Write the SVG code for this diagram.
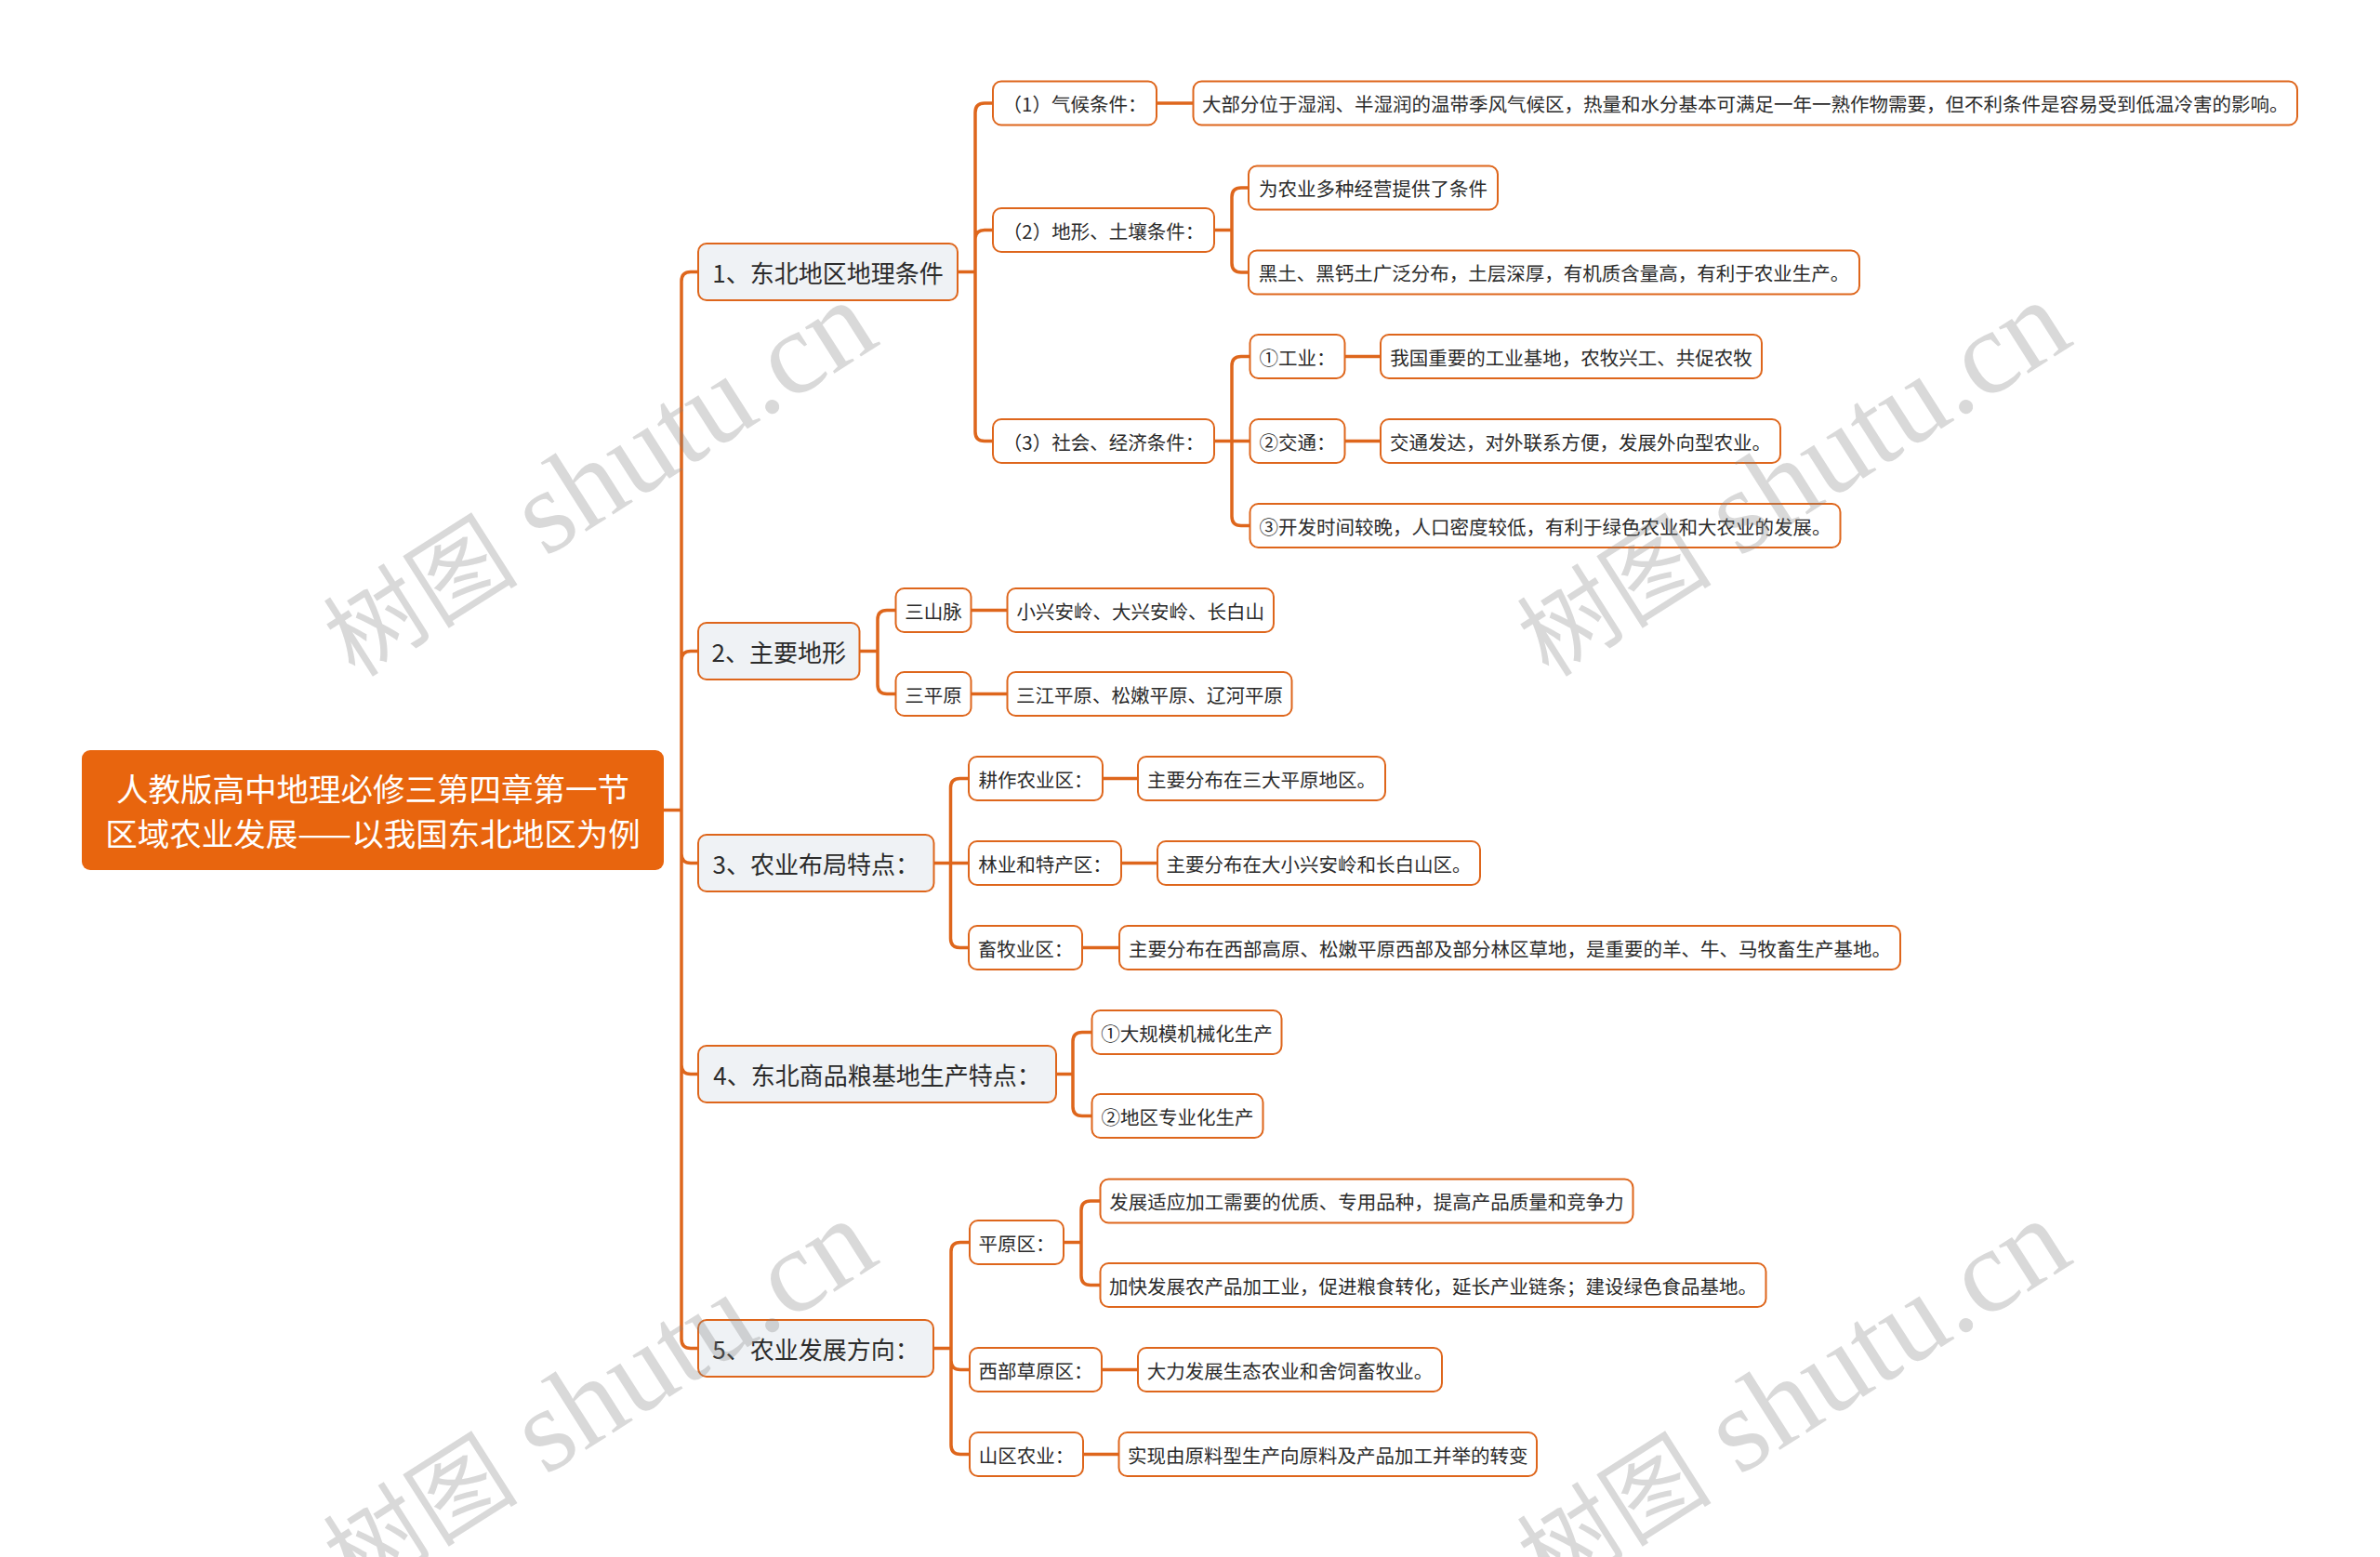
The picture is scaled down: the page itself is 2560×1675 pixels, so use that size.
<svg xmlns="http://www.w3.org/2000/svg" width="2560" height="1675" viewBox="0 0 2560 1675">
<style>
text{font-family:"Noto Sans CJK SC","Liberation Sans",sans-serif;dominant-baseline:central;text-anchor:middle;fill:#2b2b2b}
.root rect{fill:#E8650E}
.root text{fill:#fff;font-size:34.5px}
.l1 rect{fill:#EFF2F5;stroke:#DE661C;stroke-width:2}
.l1 text{font-size:26px}
.l2 rect{fill:#fff;stroke:#DE661C;stroke-width:2}
.l2 text{font-size:20.5px}
#connectors path{fill:none;stroke:#DE661C;stroke-width:3.5}
.wm text{font-family:"Liberation Serif","Noto Sans CJK SC",serif;font-size:128px;fill:#808080;fill-opacity:0.3;dominant-baseline:alphabetic}
</style>
<rect width="2560" height="1675" fill="#fff"/>
<g id="connectors">
<path d="M714 871.5 H733 M733 871.5 V302.5 Q733 292.5 743 292.5 H751 M733 871.5 V710.5 Q733 700.5 743 700.5 H751 M733 871.5 V918.5 Q733 928.5 743 928.5 H751 M733 871.5 V1145.5 Q733 1155.5 743 1155.5 H751 M733 871.5 V1440.5 Q733 1450.5 743 1450.5 H751"/>
<path d="M1030 292.5 H1049 M1049 292.5 V121 Q1049 111 1059 111 H1068 M1049 292.5 V257.5 Q1049 247.5 1059 247.5 H1068 M1049 292.5 V464.5 Q1049 474.5 1059 474.5 H1068"/>
<path d="M1244 111 H1283.5"/>
<path d="M1306 247.5 H1325 M1325 247.5 V212 Q1325 202 1335 202 H1343 M1325 247.5 V283 Q1325 293 1335 293 H1343"/>
<path d="M1306 474.5 H1325 M1325 474.5 V393.5 Q1325 383.5 1335 383.5 H1344.5 M1325 474.5 H1344.5 M1325 474.5 V555.5 Q1325 565.5 1335 565.5 H1344.5"/>
<path d="M1446.5 383.5 H1485 M1446.5 474.5 H1485"/>
<path d="M924.5 700.5 H944 M944 700.5 V666.5 Q944 656.5 954 656.5 H963.5 M944 700.5 V736.5 Q944 746.5 954 746.5 H963.5 M1044.5 656.5 H1083.5 M1044.5 746.5 H1083.5"/>
<path d="M1004.5 928.5 H1022.5 M1022.5 928.5 V847.5 Q1022.5 837.5 1032.5 837.5 H1042 M1022.5 928.5 H1042 M1022.5 928.5 V1009.5 Q1022.5 1019.5 1032.5 1019.5 H1042"/>
<path d="M1186 837.5 H1224 M1206 928.5 H1245 M1164 1019.5 H1204"/>
<path d="M1136 1155.5 H1154 M1154 1155.5 V1120.5 Q1154 1110.5 1164 1110.5 H1174.5 M1154 1155.5 V1190.5 Q1154 1200.5 1164 1200.5 H1174.5"/>
<path d="M1004 1450.5 H1023 M1023 1450.5 V1346.5 Q1023 1336.5 1033 1336.5 H1043 M1023 1450.5 V1463.5 Q1023 1473.5 1033 1473.5 H1043 M1023 1450.5 V1554.5 Q1023 1564.5 1033 1564.5 H1043"/>
<path d="M1144 1336.5 H1163 M1163 1336.5 V1302 Q1163 1292 1173 1292 H1183.5 M1163 1336.5 V1372.5 Q1163 1382.5 1173 1382.5 H1183.5"/>
<path d="M1185 1473.5 H1224 M1165 1564.5 H1203.5"/>
</g>

<g id="root" class="root"><rect x="88" y="807" width="626" height="129" rx="9"/><text x="401" y="847">人教版高中地理必修三第四章第一节</text><text x="401" y="895">区域农业发展——以我国东北地区为例</text></g>

<g id="n1" class="l1"><rect x="751" y="262" width="279" height="61" rx="9"/><text x="890.5" y="292.5">1、东北地区地理条件</text></g>
<g id="n1-1" class="l2"><rect x="1068" y="87.5" width="176" height="47" rx="9"/><text x="1156" y="111">（1）气候条件：</text></g>
<g id="n1-1-1" class="l2"><rect x="1283.5" y="87.5" width="1187.5" height="47" rx="9"/><text x="1877.25" y="111">大部分位于湿润、半湿润的温带季风气候区，热量和水分基本可满足一年一熟作物需要，但不利条件是容易受到低温冷害的影响。</text></g>
<g id="n1-2" class="l2"><rect x="1068" y="224" width="238" height="47" rx="9"/><text x="1187" y="247.5">（2）地形、土壤条件：</text></g>
<g id="n1-2-1" class="l2"><rect x="1343" y="178.5" width="268" height="47" rx="9"/><text x="1477" y="202">为农业多种经营提供了条件</text></g>
<g id="n1-2-2" class="l2"><rect x="1343" y="269.5" width="657" height="47" rx="9"/><text x="1671.5" y="293">黑土、黑钙土广泛分布，土层深厚，有机质含量高，有利于农业生产。</text></g>
<g id="n1-3" class="l2"><rect x="1068" y="451" width="238" height="47" rx="9"/><text x="1187" y="474.5">（3）社会、经济条件：</text></g>
<g id="n1-3-1" class="l2"><rect x="1344.5" y="360" width="102" height="47" rx="9"/><text x="1395.5" y="383.5">①工业：</text></g>
<g id="n1-3-1-1" class="l2"><rect x="1485" y="360" width="410" height="47" rx="9"/><text x="1690" y="383.5">我国重要的工业基地，农牧兴工、共促农牧</text></g>
<g id="n1-3-2" class="l2"><rect x="1344.5" y="451" width="102" height="47" rx="9"/><text x="1395.5" y="474.5">②交通：</text></g>
<g id="n1-3-2-1" class="l2"><rect x="1485" y="451" width="430" height="47" rx="9"/><text x="1700" y="474.5">交通发达，对外联系方便，发展外向型农业。</text></g>
<g id="n1-3-3" class="l2"><rect x="1344.5" y="542" width="635" height="47" rx="9"/><text x="1662" y="565.5">③开发时间较晚，人口密度较低，有利于绿色农业和大农业的发展。</text></g>

<g id="n2" class="l1"><rect x="751" y="670" width="173.5" height="61" rx="9"/><text x="837.75" y="700.5">2、主要地形</text></g>
<g id="n2-1" class="l2"><rect x="963.5" y="633" width="81" height="47" rx="9"/><text x="1004" y="656.5">三山脉</text></g>
<g id="n2-1-1" class="l2"><rect x="1083.5" y="633" width="286.5" height="47" rx="9"/><text x="1226.75" y="656.5">小兴安岭、大兴安岭、长白山</text></g>
<g id="n2-2" class="l2"><rect x="963.5" y="723" width="81" height="47" rx="9"/><text x="1004" y="746.5">三平原</text></g>
<g id="n2-2-1" class="l2"><rect x="1083.5" y="723" width="306" height="47" rx="9"/><text x="1236.5" y="746.5">三江平原、松嫩平原、辽河平原</text></g>

<g id="n3" class="l1"><rect x="751" y="898" width="253.5" height="61" rx="9"/><text x="877.75" y="928.5">3、农业布局特点：</text></g>
<g id="n3-1" class="l2"><rect x="1042" y="814" width="144" height="47" rx="9"/><text x="1114" y="837.5">耕作农业区：</text></g>
<g id="n3-1-1" class="l2"><rect x="1224" y="814" width="266" height="47" rx="9"/><text x="1357" y="837.5">主要分布在三大平原地区。</text></g>
<g id="n3-2" class="l2"><rect x="1042" y="905" width="164" height="47" rx="9"/><text x="1124" y="928.5">林业和特产区：</text></g>
<g id="n3-2-1" class="l2"><rect x="1245" y="905" width="347" height="47" rx="9"/><text x="1418.5" y="928.5">主要分布在大小兴安岭和长白山区。</text></g>
<g id="n3-3" class="l2"><rect x="1042" y="996" width="122" height="47" rx="9"/><text x="1103" y="1019.5">畜牧业区：</text></g>
<g id="n3-3-1" class="l2"><rect x="1204" y="996" width="840" height="47" rx="9"/><text x="1624" y="1019.5">主要分布在西部高原、松嫩平原西部及部分林区草地，是重要的羊、牛、马牧畜生产基地。</text></g>

<g id="n4" class="l1"><rect x="751" y="1125" width="385" height="61" rx="9"/><text x="943.5" y="1155.5">4、东北商品粮基地生产特点：</text></g>
<g id="n4-1" class="l2"><rect x="1174.5" y="1087" width="204" height="47" rx="9"/><text x="1276.5" y="1110.5">①大规模机械化生产</text></g>
<g id="n4-2" class="l2"><rect x="1174.5" y="1177" width="184" height="47" rx="9"/><text x="1266.5" y="1200.5">②地区专业化生产</text></g>

<g id="n5" class="l1"><rect x="751" y="1420" width="253" height="61" rx="9"/><text x="877.5" y="1450.5">5、农业发展方向：</text></g>
<g id="n5-1" class="l2"><rect x="1043" y="1313" width="101" height="47" rx="9"/><text x="1093.5" y="1336.5">平原区：</text></g>
<g id="n5-1-1" class="l2"><rect x="1183.5" y="1268.5" width="573" height="47" rx="9"/><text x="1470" y="1292">发展适应加工需要的优质、专用品种，提高产品质量和竞争力</text></g>
<g id="n5-1-2" class="l2"><rect x="1183.5" y="1359" width="716" height="47" rx="9"/><text x="1541.5" y="1382.5">加快发展农产品加工业，促进粮食转化，延长产业链条；建设绿色食品基地。</text></g>
<g id="n5-2" class="l2"><rect x="1043" y="1450" width="142" height="47" rx="9"/><text x="1114" y="1473.5">西部草原区：</text></g>
<g id="n5-2-1" class="l2"><rect x="1224" y="1450" width="327" height="47" rx="9"/><text x="1387.5" y="1473.5">大力发展生态农业和舍饲畜牧业。</text></g>
<g id="n5-3" class="l2"><rect x="1043" y="1541" width="122" height="47" rx="9"/><text x="1104" y="1564.5">山区农业：</text></g>
<g id="n5-3-1" class="l2"><rect x="1203.5" y="1541" width="449.5" height="47" rx="9"/><text x="1428.25" y="1564.5">实现由原料型生产向原料及产品加工并举的转变</text></g>

<g class="wm">
<g transform="translate(643 514) rotate(-32.5)"><text x="0" y="42"><tspan font-size="105">树图</tspan> shutu.cn</text></g>
<g transform="translate(1927 514) rotate(-32.5)"><text x="0" y="42"><tspan font-size="105">树图</tspan> shutu.cn</text></g>
<g transform="translate(643 1502) rotate(-32.5)"><text x="0" y="42"><tspan font-size="105">树图</tspan> shutu.cn</text></g>
<g transform="translate(1927 1502) rotate(-32.5)"><text x="0" y="42"><tspan font-size="105">树图</tspan> shutu.cn</text></g>
</g>
</svg>
